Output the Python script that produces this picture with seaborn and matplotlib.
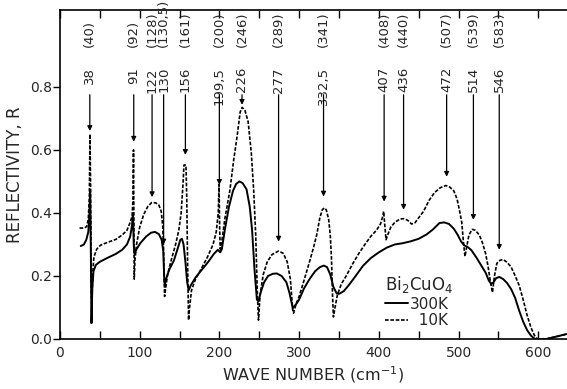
import numpy as np
import pandas as pd
import matplotlib
matplotlib.use("Agg")
import matplotlib.pyplot as plt
import seaborn as sns

# 300 K reflectivity (solid curve)
wn_300 = [26, 30, 33, 35.5, 37, 37.8, 38.6, 39.5, 40.5, 42, 45, 50, 60, 70, 78, 84, 88, 90.3,
          91.5, 92.5, 93.5, 96, 101, 108, 114, 119, 124, 127.5, 129.5, 130.8, 131.5, 133, 137,
          143, 148, 151, 153, 155, 157.5, 159.5, 161.5, 164, 170, 178, 186, 193, 198, 201, 203,
          207, 212, 217, 221, 225, 229, 234, 238, 241, 244, 247, 249, 252, 256, 261, 267, 272,
          278, 284, 288, 292, 296, 300, 306, 313, 320, 326, 331, 335, 339, 343, 347, 350, 356,
          362, 370, 380, 390, 400, 410, 420, 430, 440, 450, 460, 468, 476, 482, 488, 494, 499,
          503, 507, 511, 516, 522, 528, 534, 538, 541, 544, 547, 551, 556, 561, 566, 571, 576,
          581, 586, 591, 596, 600, 610, 620, 636]
r_300 = [0.295, 0.300, 0.315, 0.34, 0.40, 0.47, 0.30, 0.05, 0.16, 0.215, 0.235, 0.245, 0.258,
         0.27, 0.283, 0.300, 0.325, 0.36, 0.40, 0.30, 0.27, 0.285, 0.305, 0.325, 0.337, 0.340,
         0.333, 0.315, 0.28, 0.19, 0.17, 0.19, 0.22, 0.25, 0.29, 0.315, 0.318, 0.30, 0.24, 0.18,
         0.155, 0.17, 0.195, 0.22, 0.245, 0.27, 0.283, 0.275, 0.285, 0.35, 0.42, 0.47, 0.492,
         0.50, 0.495, 0.475, 0.42, 0.345, 0.22, 0.125, 0.12, 0.15, 0.18, 0.20, 0.207, 0.208,
         0.20, 0.18, 0.145, 0.098, 0.11, 0.125, 0.16, 0.19, 0.215, 0.228, 0.233, 0.228, 0.205,
         0.165, 0.145, 0.143, 0.152, 0.17, 0.197, 0.232, 0.257, 0.275, 0.29, 0.30, 0.304, 0.31,
         0.318, 0.332, 0.348, 0.368, 0.37, 0.365, 0.35, 0.33, 0.31, 0.297, 0.293, 0.282, 0.26,
         0.235, 0.21, 0.185, 0.175, 0.18, 0.193, 0.197, 0.19, 0.177, 0.158, 0.13, 0.09, 0.055,
         0.028, 0.01, 0.0, 0.0, 0.0, 0.006, 0.016]

# 10 K reflectivity (dashed curve)
wn_10 = [24.5, 28, 31, 33.5, 35.5, 36.8, 37.6, 38.3, 39.2, 40, 40.8, 42.5, 46, 51, 60, 70, 78,
         84, 88, 90.5, 91.6, 92.2, 92.6, 93.1, 94, 96, 100, 105, 110, 115, 120, 124, 127, 128.8,
         130, 131.2, 132.5, 135, 140, 145, 149, 152, 154.5, 155.5, 158, 159, 160, 161.3, 162.5,
         165, 170, 177, 185, 192, 196, 198.5, 199.5, 200.3, 201, 203, 207, 213, 218, 222, 226,
         228.5, 232, 236, 240, 243, 245.5, 247.5, 249, 251, 255, 260, 266, 274, 280, 285, 289,
         292, 293, 296, 300, 306, 313, 318, 322, 326, 329, 331.5, 334, 337, 339, 340.5, 342,
         343, 345, 348, 353, 359, 367, 375, 383, 390, 397, 402, 405, 406, 407.5, 409, 411, 415,
         420, 426, 431, 436, 441, 445, 450, 456, 463, 470, 477, 484, 489, 494, 498, 501, 504,
         506, 508, 510, 513, 517, 521, 526, 530, 534, 537, 540, 542.5, 545, 548, 552, 556, 561,
         566, 571, 576, 581, 586, 591, 595, 599, 602, 610, 620, 636]
r_10 = [0.352, 0.352, 0.353, 0.357, 0.38, 0.45, 0.65, 0.50, 0.15, 0.10, 0.20, 0.26, 0.285, 0.298,
        0.307, 0.316, 0.33, 0.345, 0.37, 0.39, 0.45, 0.60, 0.40, 0.19, 0.25, 0.30, 0.355, 0.395,
        0.42, 0.433, 0.432, 0.425, 0.405, 0.36, 0.28, 0.135, 0.16, 0.205, 0.255, 0.30, 0.345,
        0.40, 0.50, 0.552, 0.552, 0.45, 0.25, 0.06, 0.10, 0.155, 0.19, 0.222, 0.26, 0.30, 0.34,
        0.40, 0.49, 0.35, 0.285, 0.31, 0.385, 0.47, 0.57, 0.64, 0.72, 0.735, 0.725, 0.69, 0.59,
        0.47, 0.33, 0.15, 0.06, 0.14, 0.205, 0.245, 0.268, 0.279, 0.272, 0.245, 0.19, 0.09,
        0.082, 0.11, 0.135, 0.185, 0.245, 0.29, 0.33, 0.385, 0.41, 0.416, 0.41, 0.38, 0.33,
        0.26, 0.13, 0.07, 0.10, 0.14, 0.175, 0.20, 0.238, 0.272, 0.302, 0.326, 0.345, 0.365,
        0.39, 0.405, 0.36, 0.315, 0.33, 0.355, 0.37, 0.38, 0.382, 0.377, 0.365, 0.368, 0.385,
        0.405, 0.44, 0.465, 0.48, 0.487, 0.482, 0.47, 0.445, 0.41, 0.37, 0.31, 0.262, 0.29,
        0.33, 0.348, 0.345, 0.33, 0.305, 0.27, 0.23, 0.18, 0.148, 0.20, 0.24, 0.25, 0.252,
        0.243, 0.228, 0.20, 0.17, 0.125, 0.075, 0.035, 0.012, 0.0, 0.0, 0.0, 0.006, 0.016]

# mode labels: position, text, arrow tip
mode_x = [37.4, 92.5, 115.5, 130, 157.3, 199.9, 228.3, 274.2, 330.6, 406.6, 431, 485, 518.6, 551]
mode_num = ["38", "91", "122", "130", "156", "199,5", "226", "277", "332,5", "407", "436",
            "472", "514", "546"]
mode_paren = ["(40)", "(92)", "(128)", "(130,5)", "(161)", "(200)", "(246)", "(289)", "(341)",
              "(408)", "(440)", "(507)", "(539)", "(583)"]
mode_tip = [0.66, 0.626, 0.45, 0.30, 0.584, 0.489, 0.743, 0.309, 0.452, 0.436, 0.41, 0.515,
            0.378, 0.283]

sns.set_theme(style="ticks")
plt.rcParams["font.family"] = ["DejaVu Sans"]

fig = plt.figure(figsize=(5.67, 3.89), dpi=100)
ax = fig.add_axes([60 / 567, 50 / 389, 507 / 567, 329 / 389])

df300 = pd.DataFrame({"wn": wn_300, "R": r_300})
df10 = pd.DataFrame({"wn": wn_10, "R": r_10})
sns.lineplot(data=df300, x="wn", y="R", ax=ax, color="black", lw=1.4, label="300K",
             estimator=None)
sns.lineplot(data=df10, x="wn", y="R", ax=ax, color="black", lw=1.2, label="  10K",
             estimator=None, linestyle=(0, (2.2, 1.0)))

for x, num, par, tip in zip(mode_x, mode_num, mode_paren, mode_tip):
    ax.text(x, 0.863, num, rotation=90, ha="center", va="top", fontsize=9.5)
    ax.text(x, 0.927, par, rotation=90, ha="center", va="bottom", fontsize=9.5)
    ax.annotate("", xy=(x, tip), xytext=(x, 0.775),
                arrowprops=dict(arrowstyle="-|>", color="black", lw=0.9,
                                mutation_scale=7, shrinkA=0, shrinkB=0))

ax.set_xlim(0, 636)
ax.set_ylim(0, 1.044)
ax.set_xticks(np.arange(0, 700, 100))
ax.set_xticks(np.arange(50, 650, 100), minor=True)
ax.set_yticks([0.0, 0.2, 0.4, 0.6, 0.8])
ax.set_yticklabels(["0.0", "0.2", "0.4", "0.6", "0.8"])
ax.tick_params(axis="x", which="both", direction="in", top=True, length=6, width=1,
               labelsize=10, pad=5, color="black")
ax.tick_params(axis="y", direction="out", length=5, width=1, labelsize=10, pad=1,
               color="black")
for side in ["left", "bottom", "top"]:
    ax.spines[side].set_linewidth(1.2)
    ax.spines[side].set_color("black")
ax.spines["right"].set_visible(False)

ax.set_xlabel("WAVE NUMBER (cm$^{-1}$)", fontsize=11.5, labelpad=3)
ax.set_ylabel("REFLECTIVITY, R", fontsize=12, labelpad=4)

leg = ax.legend(loc="upper left", bbox_to_anchor=(398, 0.23), bbox_transform=ax.transData,
                frameon=False, fontsize=11, title="Bi$_2$CuO$_4$", title_fontsize=12,
                handlelength=1.5, handletextpad=0.1, borderpad=0, labelspacing=0.1,
                alignment="left")

fig.savefig("out.png", dpi=100)
